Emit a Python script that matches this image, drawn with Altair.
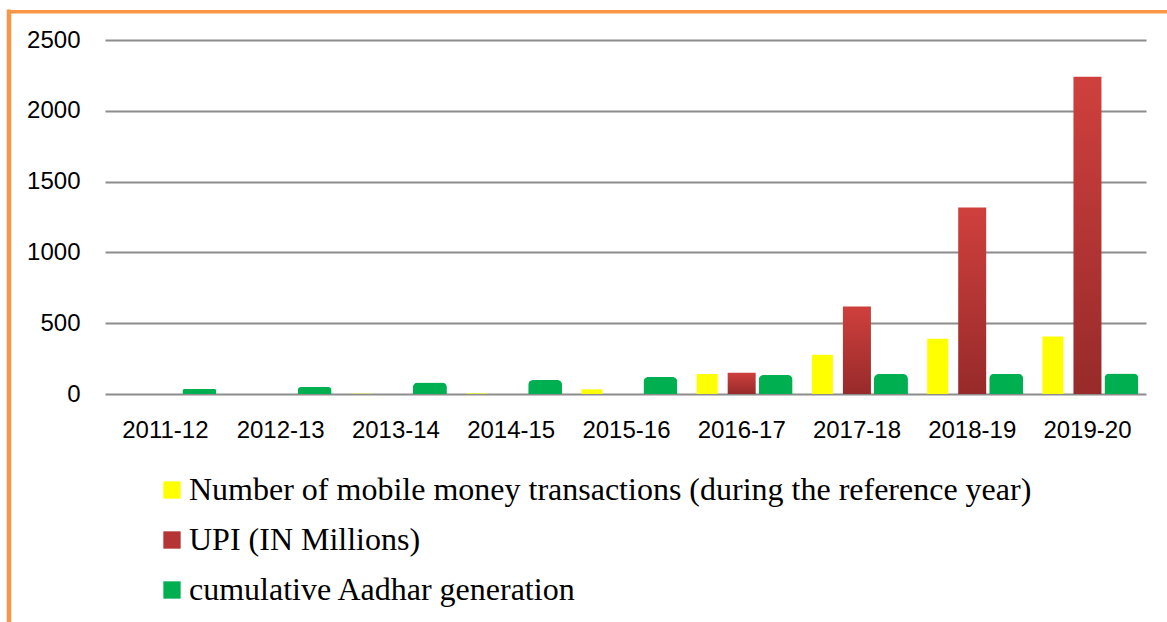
import altair as alt
import pandas as pd

years = ["2011-12", "2012-13", "2013-14", "2014-15", "2015-16",
         "2016-17", "2017-18", "2018-19", "2019-20"]
series = ["Number of mobile money transactions (during the reference year)",
          "UPI (IN Millions)",
          "cumulative Aadhar generation"]
mobile = [0, 0, 2, 4, 33, 141, 277, 390, 406]
upi = [0, 0, 0, 0, 0, 150, 618, 1317, 2241]
aadhar = [37, 49, 82, 99, 120, 134, 141, 143, 145]
colors = ["#ffff00", "#b53434", "#00b050"]
y_ticks = [0, 500, 1000, 1500, 2000, 2500]

rows = []
for s, vals in zip(series, [mobile, upi, aadhar]):
    for yr, v in zip(years, vals):
        rows.append({"year": yr, "series": s, "value": v})
df = pd.DataFrame(rows)

W, H = 1041, 354
PAD = {"left": 105, "top": 40, "right": 1167 - 105 - W, "bottom": 622 - 40 - H}

# group layout (style): total steps across the plot width
N = len(years)
K = N - 0.116 + 2 * 0.074
STEP = W / K


def band_scale(bar_w, first_left):
    """Band scale whose bands are bar_w px wide, the first starting first_left px in."""
    p = 1 - bar_w / STEP
    outer_total = K - N + p          # = 2 * paddingOuter
    o = outer_total / 2
    align = first_left / (outer_total * STEP)
    return alt.Scale(domain=years, paddingInner=p, paddingOuter=o, align=align)


x_axis = alt.Axis(title=None, labelAngle=0, domain=False, ticks=False,
                  labelPadding=24, labelFontSize=24,
                  labelFont="Liberation Sans", labelColor="black")

red_grad = alt.Gradient(
    gradient="linear",
    stops=[alt.GradientStop(color="#cf403d", offset=0),
           alt.GradientStop(color="#972a2a", offset=1)],
    x1=0, x2=0, y1=0, y2=1,
)

legend = alt.Legend(
    title=None, orient="none", legendX=51, legendY=434, direction="vertical",
    labelFont="Liberation Serif", labelFontSize=32, labelColor="black",
    labelLimit=1200, symbolType="square", symbolSize=300, symbolStrokeWidth=0,
    rowPadding=18, labelOffset=1, padding=0, symbolOpacity=1,
)

y_enc = alt.Y("value:Q", scale=alt.Scale(domain=[0, 2500], nice=False),
              axis=alt.Axis(title=None, values=y_ticks, format="d", domain=False,
                            ticks=False, grid=True, gridColor="#8c8c8c", gridWidth=2,
                            labelPadding=25, labelFontSize=24,
                            labelFont="Liberation Sans", labelColor="black"))
color_enc = alt.Color("series:N", scale=alt.Scale(domain=series, range=colors),
                      legend=legend)

base = alt.Chart(df)

yellow = base.transform_filter(alt.datum.series == series[0]).mark_bar().encode(
    x=alt.X("year:N", sort=years, scale=band_scale(21, 15.4), axis=None),
    y=y_enc, color=color_enc)
red = base.transform_filter(alt.datum.series == series[1]).mark_bar(
    color=red_grad).encode(
    x=alt.X("year:N", sort=years, scale=band_scale(28, 46.4), axis=x_axis),
    y=y_enc)
green = base.transform_filter(alt.datum.series == series[2]).mark_bar(
    cornerRadiusTopLeft=5, cornerRadiusTopRight=5, y2Offset=2).encode(
    x=alt.X("year:N", sort=years, scale=band_scale(34, 77.4), axis=None),
    y=y_enc, color=color_enc)

frame_df = pd.DataFrame({"k": [0]})
left_border = alt.Chart(frame_df).mark_rule(color="#f79646", strokeWidth=4.5).encode(
    x=alt.value(-96), y=alt.value(-30.5), y2=alt.value(H + PAD["bottom"]))
top_border = alt.Chart(frame_df).mark_rule(color="#f79646", strokeWidth=3.5).encode(
    x=alt.value(-98), x2=alt.value(W + PAD["right"]), y=alt.value(-28.3))

chart = alt.layer(yellow, red, green, left_border, top_border).resolve_scale(
    x="independent"
).properties(
    width=W, height=H, padding=PAD,
    autosize=alt.AutoSizeParams(type="none"),
    background="white",
).configure_view(stroke=None)

chart.save("out.html", embed_options={"renderer": "svg", "actions": False})
